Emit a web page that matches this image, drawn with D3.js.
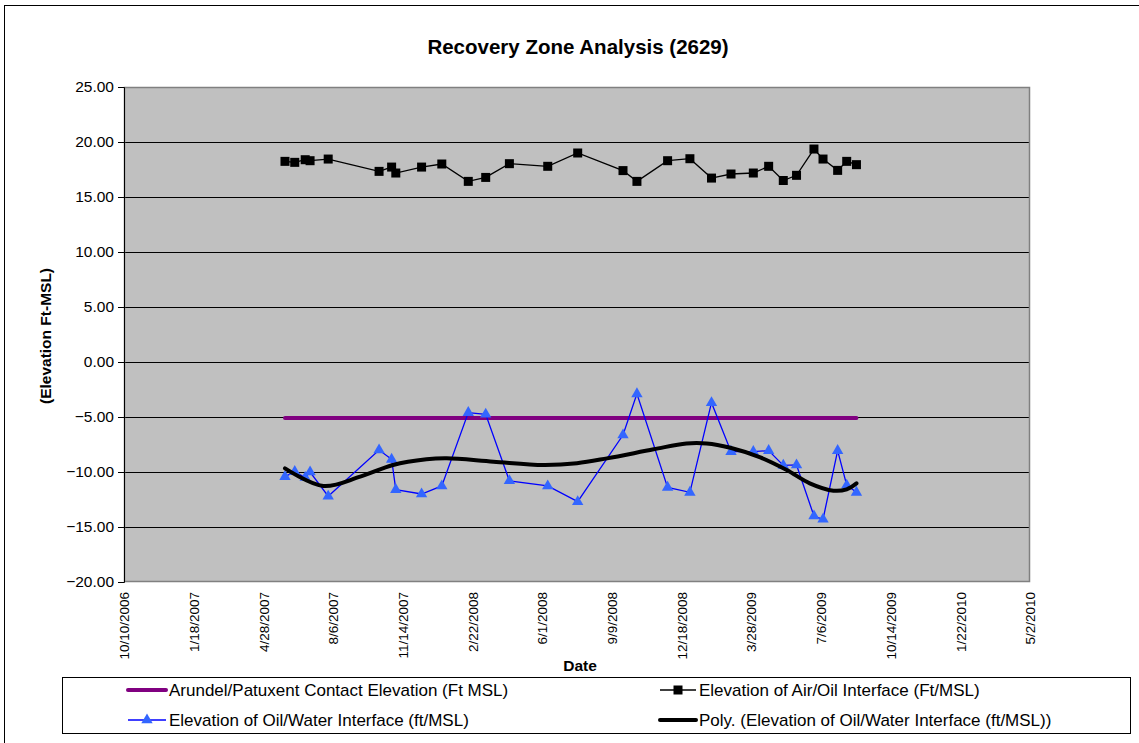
<!DOCTYPE html>
<html>
<head>
<meta charset="utf-8">
<script src="https://d3js.org/d3.v7.min.js"></script>
<style>
  body { margin: 0; background: #fff; }
  text { font-family: "Liberation Sans", Arial, sans-serif; }
</style>
</head>
<body>
<div id="chart"></div>
<script>

// sample dates (shared by both measured series)
const sampleDates = ["5/29/2007", "6/12/2007", "6/27/2007", "7/4/2007", "7/30/2007",
  "10/11/2007", "10/29/2007", "11/4/2007", "12/11/2007", "1/9/2008",
  "2/16/2008", "3/12/2008", "4/15/2008", "6/9/2008", "7/22/2008",
  "9/25/2008", "10/15/2008", "11/28/2008", "12/30/2008", "1/30/2009",
  "2/27/2009", "3/31/2009", "4/22/2009", "5/13/2009", "6/1/2009",
  "6/26/2009", "7/9/2009", "7/30/2009", "8/12/2009", "8/26/2009"] ;

const airOil = [18.24, 18.15, 18.39, 18.3, 18.45, 17.33, 17.72, 17.18, 17.72, 18.0,
  16.42, 16.78, 18.03, 17.79, 19.0, 17.4, 16.42, 18.3, 18.48, 16.72,
  17.09, 17.18, 17.79, 16.5, 16.97, 19.36, 18.45, 17.42, 18.24, 17.94] ;

const oilWater = [-10.42, -9.97, -10.5, -10.0, -12.2, -8.0, -8.85, -11.6, -12.0, -11.27,
  -4.6, -4.75, -10.8, -11.27, -12.7, -6.64, -2.9, -11.4, -11.85, -3.7,
  -8.15, -8.15, -8.06, -9.4, -9.36, -14.0, -14.3, -8.06, -11.2, -11.85] ;

// Arundel/Patuxent contact (flat line over the sampling period)
const contactDates = ["5/29/2007", "8/26/2009"] ;
const contactValues = [-5.1, -5.1] ;

// polynomial trendline
const trendDates = ["5/29/2007", "7/23/2007", "9/14/2007", "10/31/2007", "12/18/2007",
  "1/16/2008", "3/23/2008", "6/3/2008", "7/21/2008", "9/2/2008",
  "11/8/2008", "12/25/2008", "1/23/2009", "2/26/2009", "4/10/2009",
  "5/18/2009", "6/20/2009", "7/24/2009", "8/12/2009", "8/26/2009"] ;
const trendValues = [-9.67, -11.27, -10.42, -9.36, -8.85,
  -8.76, -9.06, -9.36, -9.2, -8.76,
  -7.94, -7.4, -7.4, -7.8, -8.67,
  -9.82, -11.03, -11.7, -11.57, -11.03] ;

const xTickLabels = ["10/10/2006", "1/18/2007", "4/28/2007", "8/6/2007", "11/14/2007",
  "2/22/2008", "6/1/2008", "9/9/2008", "12/18/2008", "3/28/2009",
  "7/6/2009", "10/14/2009", "1/22/2010", "5/2/2010"] ;
const yTicks = [25, 20, 15, 10, 5, 0, -5, -10, -15, -20] ;

const legendLabels = ["Arundel/Patuxent Contact Elevation (Ft MSL)",
  "Elevation of Air/Oil Interface (Ft/MSL)",
  "Elevation of Oil/Water Interface (ft/MSL)",
  "Poly. (Elevation of Oil/Water Interface (ft/MSL))"] ;

function draw_chart() {
  const parseDate = d3.utcParse("%m/%d/%Y") ;

  let dimensions = {
    width: 1139,
    height: 743,
    margin: { top: 87, right: 109, bottom: 161, left: 124 },
  }
  dimensions.boundedWidth = dimensions.width - dimensions.margin.left - dimensions.margin.right
  dimensions.boundedHeight = dimensions.height - dimensions.margin.top - dimensions.margin.bottom

  const svg = d3.select("#chart").append("svg")
      .attr("width", dimensions.width)
      .attr("height", dimensions.height)
  ;

  // outer chart border
  svg.append("rect")
      .attr("x", 4.5).attr("y", 5.5)
      .attr("width", 1150).attr("height", 760)
      .attr("fill", "#fff")
      .attr("stroke", "#000")
      .attr("stroke-width", 1)
  ;

  svg.append("text")
      .attr("x", 578).attr("y", 54)
      .attr("text-anchor", "middle")
      .style("font-size", "20.5px")
      .style("font-weight", "bold")
      .text("Recovery Zone Analysis (2629)")
  ;

  const bounds = svg.append("g")
      .attr("transform", `translate(${dimensions.margin.left}, ${dimensions.margin.top})`)
  ;

  const xScale = d3.scaleUtc()
    .domain([parseDate(xTickLabels[0]), parseDate(xTickLabels[xTickLabels.length - 1])])
    .range([0, dimensions.boundedWidth])
  ;
  const yScale = d3.scaleLinear()
    .domain([-20, 25])
    .range([dimensions.boundedHeight, 0])
  ;

  // plot area
  bounds.append("rect")
      .attr("width", dimensions.boundedWidth)
      .attr("height", dimensions.boundedHeight)
      .attr("fill", "#c0c0c0")
  ;

  // gridlines
  bounds.append("g")
    .selectAll("line")
    .data(yTicks.filter((d) => d != 25 && d != -20))
    .enter().append("line")
      .attr("x1", 0).attr("x2", dimensions.boundedWidth)
      .attr("y1", (d) => Math.round(yScale(d)) + 0.5)
      .attr("y2", (d) => Math.round(yScale(d)) + 0.5)
      .attr("stroke", "#000")
      .attr("stroke-width", 1)
  ;

  bounds.append("rect")
      .attr("x", 0.5).attr("y", 0.5)
      .attr("width", dimensions.boundedWidth - 1)
      .attr("height", dimensions.boundedHeight - 1)
      .attr("fill", "none")
      .attr("stroke", "#808080")
      .attr("stroke-width", 1.5)
  ;

  // y axis
  const yAxisGenerator = d3.axisLeft()
    .scale(yScale)
    .tickValues(yTicks)
    .tickSize(6)
    .tickPadding(4)
    .tickFormat(d3.format(".2f"))
  ;
  const yAxis = bounds.append("g")
    .call(yAxisGenerator)
  ;
  yAxis.selectAll("path, line").attr("stroke", "#000") ;
  yAxis.selectAll("text")
      .style("font-family", "'Liberation Sans', Arial, sans-serif")
      .style("font-size", "15.5px")
      .attr("fill", "#000")
  ;

  // x axis : rotated date labels, no tick marks
  const xAxisGenerator = d3.axisBottom()
    .scale(xScale)
    .tickValues(xTickLabels.map(parseDate))
    .tickSize(0)
    .tickFormat((d, i) => xTickLabels[i])
  ;
  const xAxis = bounds.append("g")
    .attr("transform", `translate(0, ${dimensions.boundedHeight})`)
    .call(xAxisGenerator)
  ;
  xAxis.select(".domain").remove() ;
  xAxis.selectAll("text")
      .style("font-family", "'Liberation Sans', Arial, sans-serif")
      .style("font-size", "13.5px")
      .attr("fill", "#000")
      .attr("text-anchor", "end")
      .attr("transform", "rotate(-90)")
      .attr("x", -10)
      .attr("y", 0)
      .attr("dy", "0.35em")
  ;

  svg.append("text")
      .attr("x", 580).attr("y", 671)
      .attr("text-anchor", "middle")
      .style("font-size", "15.5px")
      .style("font-weight", "bold")
      .text("Date")
  ;
  svg.append("text")
      .attr("transform", "translate(51, 336) rotate(-90)")
      .attr("text-anchor", "middle")
      .style("font-size", "15.5px")
      .style("font-weight", "bold")
      .text("(Elevation Ft-MSL)")
  ;

  const line = d3.line()
    .x((d) => xScale(d.date))
    .y((d) => yScale(d.value))
  ;

  const contact = contactDates.map((d, i) => ({date: parseDate(d), value: contactValues[i]})) ;
  const ao = sampleDates.map((d, i) => ({date: parseDate(d), value: airOil[i]})) ;
  const ow = sampleDates.map((d, i) => ({date: parseDate(d), value: oilWater[i]})) ;
  const trend = trendDates.map((d, i) => ({date: parseDate(d), value: trendValues[i]})) ;

  bounds.append("path")
      .attr("d", line(contact))
      .attr("fill", "none")
      .attr("stroke", "#800080")
      .attr("stroke-width", 4)
      .attr("stroke-linecap", "round")
  ;

  // air/oil
  bounds.append("path")
      .attr("d", line(ao))
      .attr("fill", "none")
      .attr("stroke", "#000")
      .attr("stroke-width", 1.3)
  ;
  bounds.selectAll(".sq")
    .data(ao)
    .enter().append("rect")
      .attr("class", "sq")
      .attr("x", (d) => xScale(d.date) - 4.5)
      .attr("y", (d) => yScale(d.value) - 4.5)
      .attr("width", 9).attr("height", 9)
      .attr("fill", "#000")
  ;

  // oil/water
  bounds.append("path")
      .attr("d", line(ow))
      .attr("fill", "none")
      .attr("stroke", "#0000ff")
      .attr("stroke-width", 1.3)
  ;
  const tri = d3.symbol().type(d3.symbolTriangle).size(56) ;
  bounds.selectAll(".tri")
    .data(ow)
    .enter().append("path")
      .attr("class", "tri")
      .attr("d", tri)
      .attr("transform", (d) => `translate(${xScale(d.date)}, ${yScale(d.value)})`)
      .attr("fill", "#3366ff")
  ;

  // polynomial trend
  bounds.append("path")
      .attr("d", line.curve(d3.curveCatmullRom.alpha(0.5))(trend))
      .attr("fill", "none")
      .attr("stroke", "#000")
      .attr("stroke-width", 4)
      .attr("stroke-linecap", "round")
  ;

  // legend
  const legend = svg.append("g") ;
  legend.append("rect")
      .attr("x", 62.5).attr("y", 677.5)
      .attr("width", 1068).attr("height", 56)
      .attr("fill", "#fff")
      .attr("stroke", "#000")
      .attr("stroke-width", 1)
  ;
  const legendPos = [[128, 690], [660, 690], [128, 720], [660, 720]] ;
  const sampleLen = [38, 36, 38, 36] ;
  legendLabels.forEach((label, i) => {
    const [lx, ly] = legendPos[i] ;
    const l2 = lx + sampleLen[i] ;
    const g = legend.append("g") ;
    if (i == 0) {
      g.append("line").attr("x1", lx).attr("x2", l2).attr("y1", ly).attr("y2", ly)
        .attr("stroke", "#800080").attr("stroke-width", 4).attr("stroke-linecap", "round") ;
    } else if (i == 1) {
      g.append("line").attr("x1", lx).attr("x2", l2).attr("y1", ly).attr("y2", ly)
        .attr("stroke", "#000").attr("stroke-width", 1.3) ;
      g.append("rect").attr("x", (lx + l2) / 2 - 4.5).attr("y", ly - 4.5)
        .attr("width", 9).attr("height", 9).attr("fill", "#000") ;
    } else if (i == 2) {
      g.append("line").attr("x1", lx).attr("x2", l2).attr("y1", ly).attr("y2", ly)
        .attr("stroke", "#0000ff").attr("stroke-width", 1.3) ;
      g.append("path").attr("d", tri)
        .attr("transform", `translate(${(lx + l2) / 2}, ${ly})`)
        .attr("fill", "#3366ff") ;
    } else {
      g.append("line").attr("x1", lx).attr("x2", l2).attr("y1", ly).attr("y2", ly)
        .attr("stroke", "#000").attr("stroke-width", 4).attr("stroke-linecap", "round") ;
    }
    g.append("text")
        .attr("x", l2 + 3).attr("y", ly)
        .attr("dy", "0.35em")
        .style("font-size", "17px")
        .text(label)
    ;
  }) ;
}

draw_chart() ;
</script>
</body>
</html>
